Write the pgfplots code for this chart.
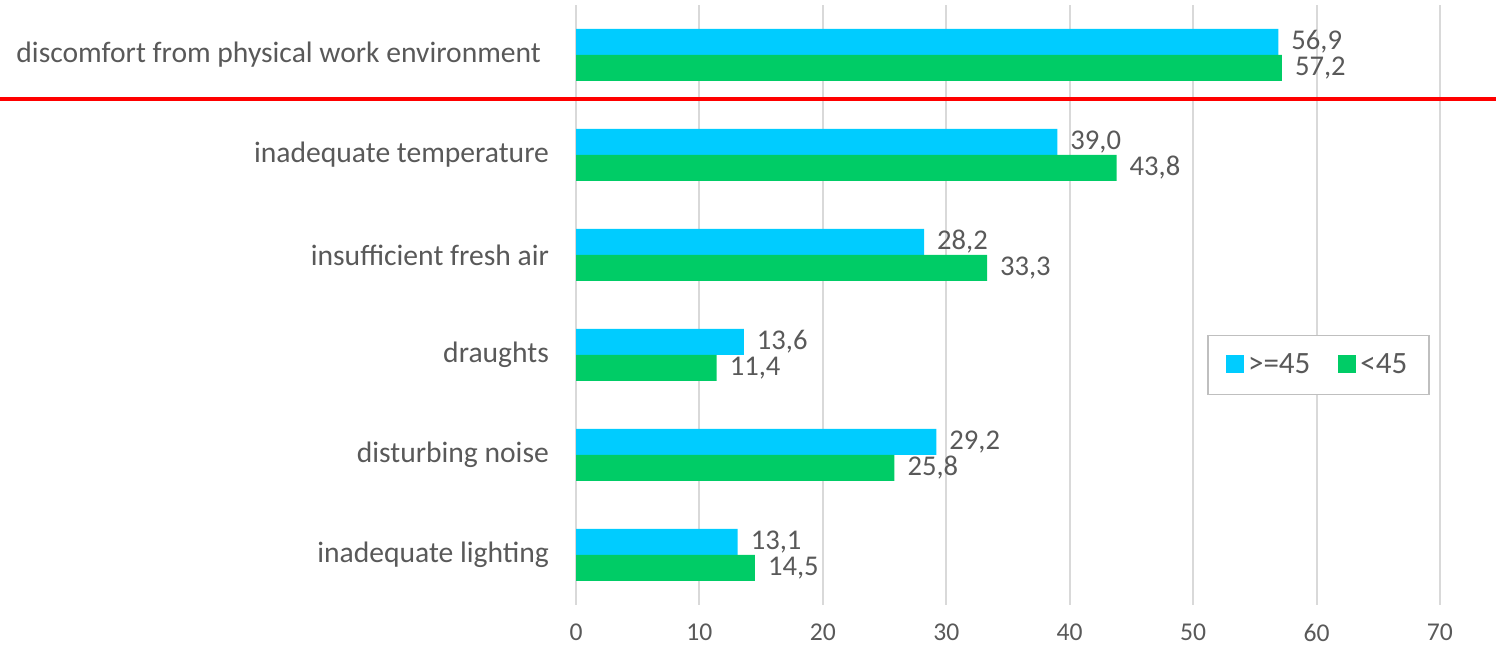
\documentclass[border=0pt]{standalone}
\usepackage{fontspec}
\setmainfont{Carlito}
\usepackage{pgfplots}
\pgfplotsset{compat=1.18}
\definecolor{cyanbar}{HTML}{00CCFF}
\definecolor{greenbar}{HTML}{00CC66}
\definecolor{txt}{HTML}{595959}
\definecolor{gridc}{HTML}{D9D9D9}
\definecolor{legc}{HTML}{BFBFBF}
\begin{document}
\begin{tikzpicture}
\begin{axis}[
  scale only axis,
  width=432pt, height=300pt,
  xbar, bar width=13pt,
  xmin=0, xmax=70, ymin=-0.5, ymax=5.5,
  xtick={0,10,...,70},
  ytick={0,1,2,3,4,5},
  yticklabels={inadequate lighting, disturbing noise, draughts, insufficient fresh air, inadequate temperature, {\hbox{discomfort from physical work environment\kern4pt}}},
  axis line style={draw=none},
  major tick length=0pt,
  xmajorgrids, grid style={gridc, line width=1pt},
  tick label style={txt},
  xticklabel style={font=\fontsize{12.8}{14}\selectfont, yshift=-6pt},
  yticklabel style={font=\fontsize{14.8}{17}\selectfont, xshift=-10pt},
  /pgf/number format/assume math mode=true,
  nodes near coords,
  nodes near coords style={font=\fontsize{14.3}{16}\selectfont, txt, xshift=3pt,
    /pgf/number format/.cd, fixed, precision=1, fixed zerofill, use comma, assume math mode=true},
  clip=false,
  legend columns=2,
  legend style={at={(axis cs:69.19,2.2)}, anchor=north east, draw=legc, line width=0.75pt,
    font=\fontsize{15.5}{18}\selectfont, text=txt, inner xsep=9pt, inner ysep=7pt,
    /tikz/every even column/.append style={column sep=12pt}},
  legend image code/.code={\fill[#1,draw=none] (0pt,-4pt) rectangle (9pt,5pt);},
]
\addplot[fill=cyanbar, draw=none, bar shift=6.5pt] coordinates {
  (13.1,0) (29.2,1) (13.6,2) (28.2,3) (39.0,4) (56.9,5)};
\addlegendentry{>=45}
\addplot[fill=greenbar, draw=none, bar shift=-6.5pt] coordinates {
  (14.5,0) (25.8,1) (11.4,2) (33.3,3) (43.8,4) (57.2,5)};
\addlegendentry{<45}
\draw[red, line width=2pt] (axis cs:-46.67,4.56) -- (axis cs:74.54,4.56);
\coordinate (BL) at (axis cs:-46.67,-0.95);
\coordinate (TR) at (axis cs:74.54,5.55);
\end{axis}
\pgfresetboundingbox
\path[use as bounding box] (BL) rectangle (TR);
\end{tikzpicture}
\end{document}
